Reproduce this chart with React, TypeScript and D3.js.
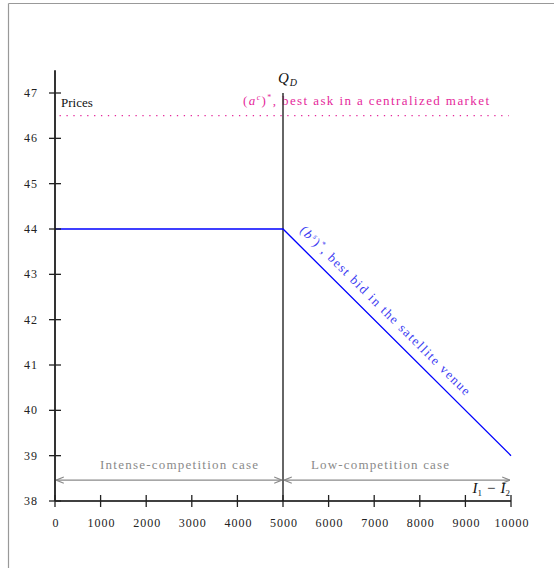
import * as d3 from "d3";

const xTicks = [0, 1000, 2000, 3000, 4000, 5000, 6000, 7000, 8000, 9000, 10000];
const yTicks = [38, 39, 40, 41, 42, 43, 44, 45, 46, 47];
const bidX = [0, 5000, 10000];
const bidY = [44, 44, 39];
const askPrice = 46.5;
const qD = 5000;
const caseArrowY = 38.46;

const FONT = "Liberation Serif";

export default function App() {
  const width = 554;
  const height = 568;

  const x = d3.scaleLinear().domain([0, 10000]).range([55, 511]);
  const y = d3.scaleLinear().domain([38, 47]).range([501, 93]);

  const bidLine = d3
    .line<number>()
    .x((_, i) => x(bidX[i]))
    .y((d) => y(d));

  const angle =
    (Math.atan2(y(bidY[2]) - y(bidY[1]), x(bidX[2]) - x(bidX[1])) * 180) /
    Math.PI;

  const gray = "#8a8a8a";
  const pink = "#e5289b";

  return (
    <svg
      width={width}
      height={height}
      fontFamily={FONT}
      style={{ position: "absolute", left: 0, top: 0 }}
    >
      <defs>
        <marker
          id="arr"
          viewBox="0 0 10 10"
          refX={10}
          refY={5}
          markerWidth={6}
          markerHeight={6}
          orient="auto-start-reverse"
        >
          <path d="M0,1 L10,5 L0,9" fill="none" stroke={gray} strokeWidth={1.5} />
        </marker>
      </defs>

      {/* frame */}
      <line x1={8.5} y1={3.5} x2={554} y2={3.5} stroke="#999" strokeWidth={1.2} />
      <line x1={8.5} y1={3.5} x2={8.5} y2={568} stroke="#999" strokeWidth={1.2} />

      {/* ask price dotted */}
      <line
        x1={x(100)}
        x2={x(9950)}
        y1={y(askPrice)}
        y2={y(askPrice)}
        stroke={pink}
        strokeWidth={1.3}
        strokeDasharray="1.3 5.6"
      />
      <text fontFamily={FONT} x={243} y={y(askPrice) - 11} fill={pink} fontSize={13} textLength={246} lengthAdjust="spacing">
        (<tspan fontStyle="italic">a</tspan>
        <tspan dy={-5} fontSize={8} fontStyle="italic">c</tspan>
        <tspan dy={5}>)</tspan>
        <tspan dy={-5} fontSize={8}>*</tspan>
        <tspan dy={5}>, best ask in a centralized market</tspan>
      </text>

      {/* Q_D */}
      <line x1={x(qD)} x2={x(qD)} y1={y(47)} y2={y(38)} stroke="#333" strokeWidth={1.5} />
      <text fontFamily={FONT} x={x(qD) - 5} y={y(47) - 10} fontSize={15} fontStyle="italic" fill="#111">
        Q<tspan dy={3} dx={1} fontSize={10}>D</tspan>
      </text>

      {/* bid line */}
      <path d={bidLine(bidY) ?? ""} fill="none" stroke="#0000ff" strokeWidth={1.3} />
      <g transform={`translate(${x(bidX[1])},${y(bidY[1])}) rotate(${angle})`}>
        <text fontFamily={FONT} x={13} y={-10} fill="#3b3bf2" fontSize={13} textLength={234} lengthAdjust="spacing">
          (<tspan fontStyle="italic">b</tspan>
          <tspan dy={-5} fontSize={8} fontStyle="italic">s</tspan>
          <tspan dy={5}>)</tspan>
          <tspan dy={-5} fontSize={8}>*</tspan>
          <tspan dy={5}>, best bid in the satellite venue</tspan>
        </text>
      </g>

      {/* case arrows */}
      <line
        x1={x(0) + 1}
        x2={x(qD) - 1}
        y1={y(caseArrowY)}
        y2={y(caseArrowY)}
        stroke={gray}
        strokeWidth={1.3}
        markerStart="url(#arr)"
        markerEnd="url(#arr)"
      />
      <line
        x1={x(qD) + 1}
        x2={x(10000) - 1}
        y1={y(caseArrowY)}
        y2={y(caseArrowY)}
        stroke={gray}
        strokeWidth={1.3}
        markerStart="url(#arr)"
        markerEnd="url(#arr)"
      />
      <text
        fontFamily={FONT}
        x={100}
        y={y(caseArrowY) - 11}
        fill={gray}
        fontSize={13}
        textLength={158}
        lengthAdjust="spacing"
      >
        Intense-competition case
      </text>
      <text
        fontFamily={FONT}
        x={311}
        y={y(caseArrowY) - 11}
        fill={gray}
        fontSize={13}
        textLength={138}
        lengthAdjust="spacing"
      >
        Low-competition case
      </text>

      {/* axes */}
      <line x1={x(0)} x2={x(0)} y1={y(47.5)} y2={y(38)} stroke="#000" strokeWidth={1.6} />
      <line x1={x(0)} x2={x(10000)} y1={y(38)} y2={y(38)} stroke="#000" strokeWidth={1.6} />
      {yTicks.map((t) => (
        <g key={t}>
          <line x1={x(0) - 6} x2={x(0) + 6} y1={y(t)} y2={y(t)} stroke="#222" strokeWidth={1.3} />
          <text
            fontFamily={FONT}
            x={x(0) - 17}
            y={y(t) + 4}
            fontSize={12}
            letterSpacing={1}
            textAnchor="end"
            fill="#222"
          >
            {t}
          </text>
        </g>
      ))}
      {xTicks.map((t) => (
        <g key={t}>
          <line x1={x(t)} x2={x(t)} y1={y(38) - 6} y2={y(38) + 6} stroke="#222" strokeWidth={1.3} />
          <text
            fontFamily={FONT}
            x={x(t) + 1}
            y={y(38) + 26}
            fontSize={12}
            letterSpacing={1}
            textAnchor="middle"
            fill="#222"
          >
            {t}
          </text>
        </g>
      ))}

      <text fontFamily={FONT} x={x(0) + 6} y={y(47) + 14} fontSize={13} fill="#111">
        Prices
      </text>
      <text fontFamily={FONT} x={x(10000) - 1} y={y(38) - 8} fontSize={15} textAnchor="end" fill="#111">
        <tspan fontStyle="italic">I</tspan>
        <tspan dy={3} fontSize={9}>1</tspan>
        <tspan dy={-3} dx={5}>−</tspan>
        <tspan dx={5} fontStyle="italic">I</tspan>
        <tspan dy={3} fontSize={9}>2</tspan>
      </text>
    </svg>
  );
}
